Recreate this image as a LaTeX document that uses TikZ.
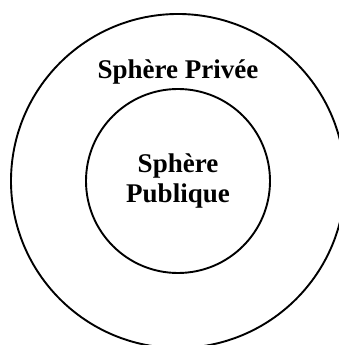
\documentclass[tikz,border=0pt]{standalone}
\usepackage{fontspec}
\setmainfont{Liberation Serif}
\usetikzlibrary{positioning}

\begin{document}
\begin{tikzpicture}[x=1pt,y=1pt,line width=1.9pt,
	sphere/.style={circle,draw,inner sep=0pt},
	etiquette/.style={font=\fontsize{27}{30}\selectfont\bfseries,align=center,inner sep=0pt}]
	\useasboundingbox (0,0) rectangle (339,345);
	\clip (0,0) rectangle (339,345);
	\node[sphere, minimum size=334pt] (privee) at (178,164) {};
	\node[sphere, etiquette, minimum size=184pt] (publique) at (privee.center) {Sphère\\Publique};
	\node[etiquette] (titre) [above=3pt of publique] {Sphère Privée};
\end{tikzpicture}
\end{document}
